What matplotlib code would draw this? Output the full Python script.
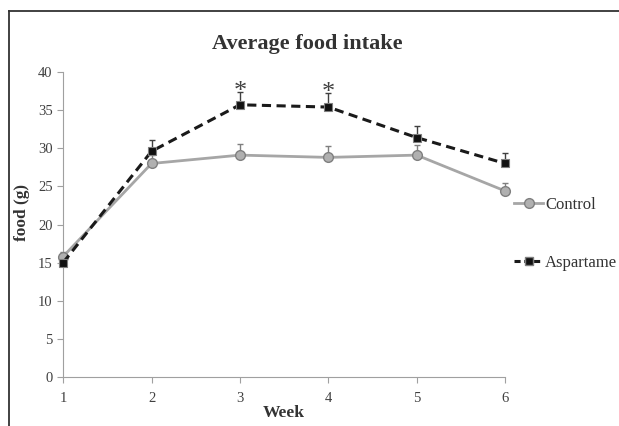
import numpy as np
import matplotlib.pyplot as plt
from matplotlib.lines import Line2D

plt.rcParams['font.family'] = ['Liberation Serif', 'DejaVu Serif']

weeks = [1, 2, 3, 4, 5, 6]
control = [15.8, 28.0, 29.1, 28.8, 29.1, 24.4]
control_err = [0.6, 1.1, 1.4, 1.5, 1.3, 1.1]
aspartame = [15.0, 29.6, 35.7, 35.4, 31.4, 28.0]
aspartame_err = [0.7, 1.5, 1.7, 1.8, 1.5, 1.4]
signif_weeks = [3, 4]

fig = plt.figure(figsize=(6.19, 4.26), dpi=100)
ax = fig.add_axes([0.102, 0.115, 0.714, 0.716])

zeros = [0] * len(weeks)
for c in ax.errorbar(weeks, control, yerr=[zeros, control_err], fmt='none',
                     ecolor='#7f7f7f', elinewidth=1, capsize=2.5, capthick=1, zorder=2).get_children():
    c.set_clip_on(False)
for c in ax.errorbar(weeks, aspartame, yerr=[zeros, aspartame_err], fmt='none',
                     ecolor='#404040', elinewidth=1, capsize=2.5, capthick=1, zorder=2).get_children():
    c.set_clip_on(False)

ax.plot(weeks, control, color='#a6a6a6', lw=2, marker='o', ms=7,
        mfc='#b0b0b0', mec='#7f7f7f', mew=1, zorder=3, clip_on=False)
ax.plot(weeks, aspartame, color='#1a1a1a', lw=2.2, ls=(0, (3, 1.8)), marker='s', ms=6,
        mfc='#111111', mec='#7f7f7f', mew=0.8, zorder=4, clip_on=False)

# asterisks for significance
for w in signif_weeks:
    i = weeks.index(w)
    ax.text(w, aspartame[i] + aspartame_err[i] - 0.8, '*', ha='center', va='baseline',
            fontsize=19, color='#404040')

ax.set_xlim(1, 6)
ax.set_ylim(0, 40)
ax.set_xticks(weeks)
ax.set_yticks(np.arange(0, 41, 5))
for s in ['top', 'right']:
    ax.spines[s].set_visible(False)
for s in ['left', 'bottom']:
    ax.spines[s].set_color('#a0a0a0')
ax.tick_params(colors='#a0a0a0', labelcolor='#404040', labelsize=10.5, length=4, direction='out')
ax.tick_params(axis='x', pad=7)
ax.set_xlabel('Week', fontsize=12.6, fontweight='bold', color='#333333', labelpad=0)
fig.text(0.036, 0.502, 'food (g)', rotation=90, ha='center', va='center',
         fontsize=12.4, fontweight='bold', color='#333333')
fig.text(0.496, 0.885, 'Average food intake', ha='center', va='baseline',
         fontsize=16, fontweight='bold', color='#333333')

# legend entries, outside the plot on the right
h1 = Line2D([], [], color='#a6a6a6', lw=2, marker='o', ms=7, mfc='#b0b0b0', mec='#7f7f7f')
h2 = Line2D([], [], color='#1a1a1a', lw=2.2, ls=(0, (2, 1.2)), marker='s', ms=6, mfc='#111111', mec='#7f7f7f')
fig.legend([h1], ['Control'], loc='center left', bbox_to_anchor=(0.831, 0.519),
           frameon=False, fontsize=12, handlelength=1.7, handletextpad=0.15,
           borderpad=0, borderaxespad=0, labelcolor='#333333')
fig.legend([h2], ['Aspartame'], loc='center left', bbox_to_anchor=(0.831, 0.383),
           frameon=False, fontsize=12, handlelength=1.7, handletextpad=0.15,
           borderpad=0, borderaxespad=0, labelcolor='#333333')

# outer frame (top and left only)
fig.add_artist(Line2D([0.014, 1.0], [0.974, 0.974], color='#333333', lw=1.3,
                      transform=fig.transFigure))
fig.add_artist(Line2D([0.014, 0.014], [0.0, 0.974], color='#333333', lw=1.3,
                      transform=fig.transFigure))

fig.savefig('out.png', dpi=100)
